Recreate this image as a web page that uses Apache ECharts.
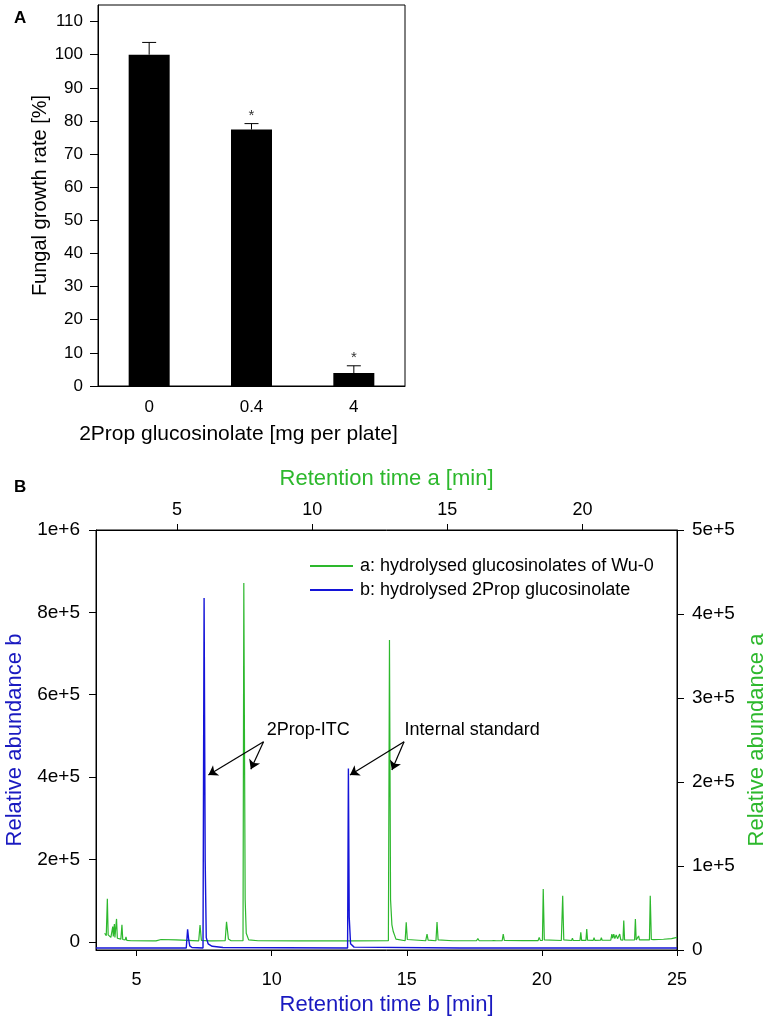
<!DOCTYPE html>
<html>
<head>
<meta charset="utf-8">
<script src="https://cdn.jsdelivr.net/npm/echarts@6/dist/echarts.min.js"></script>
<style>
html,body{margin:0;padding:0;background:#fff;}
#chart{width:768px;height:1020px;}
</style>
</head>
<body>
<div id="chart"></div>
<script>
// ---------- Panel A data ----------
const doseCats = ['0', '0.4', '4'];
const growthMean = [100, 77.4, 3.9];
const growthErr = [3.7, 1.8, 2.2];
const growthSig = ['', '*', '*'];
const growthTicks = [0, 10, 20, 30, 40, 50, 60, 70, 80, 90, 100, 110];

// ---------- Panel B data ----------
// a: hydrolysed glucosinolates of Wu-0 (time a [min], abundance a)
const timeA = [2.32, 2.38, 2.42, 2.45, 2.55, 2.62, 2.64, 2.68, 2.70, 2.76, 2.79, 2.92, 2.96, 2.99, 3.08, 3.11, 3.14, 3.30,
  4.10, 4.16, 4.22, 4.41, 4.45, 4.96, 5.00, 5.80, 5.85, 5.90, 6.22, 6.26, 6.30, 6.78, 6.83, 6.90, 7.00,
  7.44, 7.47, 7.52, 7.56, 7.65, 8.00, 9.50, 10.50, 11.50, 12.82, 12.86, 12.90, 12.95, 13.00, 13.10,
  13.44, 13.48, 13.52, 14.20, 14.25, 14.29, 14.58, 14.62, 14.66, 15.20, 16.08, 16.13, 16.18, 16.64, 16.68, 16.72, 16.77, 16.81,
  17.03, 17.07, 17.11, 17.80, 18.36, 18.40, 18.44, 18.52, 18.55, 18.59, 19.22, 19.27, 19.31, 19.60, 19.63, 19.66,
  19.91, 19.94, 19.97, 20.13, 20.16, 20.19, 20.40, 20.43, 20.46, 20.67, 20.70, 20.73, 21.05, 21.09, 21.12, 21.16, 21.20,
  21.25, 21.30, 21.38, 21.42, 21.50, 21.53, 21.56, 21.93, 21.96, 21.99, 22.05, 22.08, 22.11, 22.48, 22.51, 22.55,
  22.64, 22.67, 22.70, 23.00, 23.30, 23.50];
const absA = [20000, 17000, 61000, 18000, 15000, 28000, 16000, 31000, 15000, 37000, 14000, 13000, 30000, 12500, 12000, 15500, 11500, 11000,
  10800, 11800, 10800, 12500, 10800, 12000, 10700, 10800, 29800, 11500, 10900, 12500, 10900, 11000, 33700, 13000, 11000,
  11000, 437000, 60000, 20000, 12000, 11000, 10800, 10900, 10800, 11000, 369000, 60000, 30000, 22000, 13000,
  11000, 33000, 12500, 11000, 19000, 11800, 11000, 33300, 12000, 11000, 11000, 13500, 11000, 11000, 12500, 11200, 12500, 11000,
  11000, 19000, 11300, 11200, 11200, 15000, 11500, 11300, 72600, 12000, 11300, 64700, 12000, 11300, 14000, 11300,
  11500, 21000, 11500, 11500, 25000, 11800, 11500, 14600, 11500, 11600, 14600, 11600, 11800, 19000, 14000, 19000, 13500,
  18000, 13500, 19000, 12000, 11800, 35000, 12000, 11900, 37000, 12000, 12000, 16700, 12000, 12000, 64700, 12500,
  12300, 14600, 12300, 12800, 13500, 15000];

// b: hydrolysed 2Prop glucosinolate (time b [min], abundance b)
const timeB = [3.50, 6.84, 6.89, 6.93, 6.97, 7.05, 7.46, 7.50, 7.54, 7.58, 7.65, 7.80, 8.20,
  12.81, 12.84, 12.87, 12.92, 13.05, 16.97, 17.00, 17.04, 25.00];
const absB = [-15000, -15000, 30000, 5000, -10000, -14000, -15000, 835000, 200000, 10000, -5000, -11000, -14000,
  -15000, 421000, 60000, -5000, -13000, -15000, -11000, -15000, -15000];

const ticksTimeA = [5, 10, 15, 20];
const ticksTimeB = [5, 10, 15, 20, 25];
const ticksAbsB = [0, 200000, 400000, 600000, 800000, 1000000];

// annotation labels and arrows (time b, abundance b)
const annoLabels = [
  {name: '2Prop-ITC', at: [9.82, 514000]},
  {name: 'Internal standard', at: [14.92, 513000]}
];
const annoArrows = [
  [[9.70, 486000], [7.66, 405000]],
  [[9.70, 486000], [9.23, 419000]],
  [[14.90, 486000], [12.90, 405000]],
  [[14.90, 486000], [14.45, 417000]]
];

const nameA = 'a: hydrolysed glucosinolates of Wu-0';
const nameB = 'b: hydrolysed 2Prop glucosinolate';
const GREEN = '#2DB82D';
const BLUE = '#1414D8';
const BLUE_T = '#1A1AC0';
const FONT = '"Liberation Sans", Arial, sans-serif';

function expFmt(v) {
  if (v === 0) return '0';
  return Number(v).toExponential();
}

const chart = echarts.init(document.getElementById('chart'), null, {renderer: 'canvas'});

const option = {
  animation: false,
  backgroundColor: '#fff',
  textStyle: {fontFamily: FONT, color: '#000'},
  title: [
    {text: 'A', left: 9, top: 5, textStyle: {fontSize: 17, fontWeight: 'bold', fontFamily: FONT, color: '#000'}},
    {text: 'B', left: 9, top: 474, textStyle: {fontSize: 17, fontWeight: 'bold', fontFamily: FONT, color: '#000'}}
  ],
  legend: {
    show: true,
    orient: 'vertical',
    left: 305,
    top: 552,
    itemWidth: 43,
    itemHeight: 2,
    itemGap: 6,
    icon: 'rect',
    textStyle: {fontSize: 18, fontFamily: FONT, color: '#000', padding: [0, 0, 0, 2]},
    data: [
      {name: nameA, icon: 'rect', itemStyle: {color: GREEN}},
      {name: nameB, icon: 'rect', itemStyle: {color: BLUE}}
    ],
    selectedMode: false
  },
  grid: [
    {left: 98, top: 5, width: 307, height: 381, show: true, borderColor: '#000', borderWidth: 1,
      backgroundColor: 'transparent', containLabel: false, outerBoundsMode: 'none'},
    {left: 96, top: 530, width: 581, height: 420, show: true, borderColor: '#000', borderWidth: 1,
      backgroundColor: 'transparent', containLabel: false, outerBoundsMode: 'none'}
  ],
  xAxis: [
    {
      gridIndex: 0, type: 'category', data: doseCats,
      axisLine: {lineStyle: {color: '#000', width: 1}},
      axisTick: {alignWithLabel: true, length: 7, lineStyle: {color: '#000'}},
      axisLabel: {fontSize: 17, color: '#000', margin: 13, fontFamily: FONT},
      name: '2Prop glucosinolate [mg per plate]', nameLocation: 'middle', nameGap: 38,
      nameTextStyle: {fontSize: 21, color: '#000', fontFamily: FONT, padding: [0, 26, 0, 0]}
    },
    {
      gridIndex: 1, type: 'value', position: 'bottom', min: 3.5, max: 25,
      axisLine: {onZero: false, lineStyle: {color: '#000', width: 1}},
      axisTick: {length: 6, customValues: ticksTimeB, lineStyle: {color: '#000'}},
      axisLabel: {fontSize: 18, color: '#000', margin: 21, customValues: ticksTimeB, fontFamily: FONT},
      splitLine: {show: false},
      name: 'Retention time b [min]', nameLocation: 'middle', nameGap: 44,
      nameTextStyle: {fontSize: 22, color: BLUE_T, fontFamily: FONT}
    },
    {
      gridIndex: 1, type: 'value', position: 'top', min: 2, max: 23.5,
      axisLine: {onZero: false, lineStyle: {color: '#000', width: 1}},
      axisTick: {length: 6, customValues: ticksTimeA, lineStyle: {color: '#000'}},
      axisLabel: {fontSize: 18, color: '#000', margin: 11, customValues: ticksTimeA, fontFamily: FONT},
      splitLine: {show: false},
      name: 'Retention time a [min]', nameLocation: 'middle', nameGap: 40,
      nameTextStyle: {fontSize: 22, color: GREEN, fontFamily: FONT}
    }
  ],
  yAxis: [
    {
      gridIndex: 0, type: 'value', min: 0, max: 115,
      axisLine: {show: true, lineStyle: {color: '#000', width: 1}},
      axisTick: {show: true, length: 8, customValues: growthTicks, lineStyle: {color: '#000'}},
      axisLabel: {fontSize: 17, color: '#000', margin: 15, customValues: growthTicks, fontFamily: FONT},
      splitLine: {show: false},
      name: 'Fungal growth rate [%]', nameLocation: 'middle', nameRotate: 90, nameGap: 46,
      nameTextStyle: {fontSize: 20, color: '#000', fontFamily: FONT}
    },
    {
      gridIndex: 1, type: 'value', position: 'left', min: -20000, max: 1000000,
      axisLine: {show: true, onZero: false, lineStyle: {color: '#000', width: 1}},
      axisTick: {show: true, length: 7, customValues: ticksAbsB, lineStyle: {color: '#000'}},
      axisLabel: {fontSize: 19, color: '#000', margin: 16, customValues: ticksAbsB, formatter: expFmt, fontFamily: FONT},
      splitLine: {show: false},
      name: 'Relative abundance b', nameLocation: 'middle', nameRotate: 90, nameGap: 70,
      nameTextStyle: {fontSize: 22, color: BLUE_T, fontFamily: FONT}
    },
    {
      gridIndex: 1, type: 'value', position: 'right', min: 0, max: 500000, interval: 100000,
      axisLine: {show: true, onZero: false, lineStyle: {color: '#000', width: 1}},
      axisTick: {show: true, length: 7, lineStyle: {color: '#000'}},
      axisLabel: {fontSize: 19, color: '#000', margin: 15, formatter: expFmt, fontFamily: FONT},
      splitLine: {show: false},
      name: 'Relative abundance a', nameLocation: 'middle', nameRotate: 90, nameGap: 67,
      nameTextStyle: {fontSize: 22, color: GREEN, fontFamily: FONT}
    }
  ],
  series: [
    {
      type: 'bar', xAxisIndex: 0, yAxisIndex: 0, data: growthMean, barWidth: 41,
      itemStyle: {color: '#000'}, silent: true
    },
    {
      type: 'custom', xAxisIndex: 0, yAxisIndex: 0, silent: true,
      data: doseCats.map((c, i) => [i, growthMean[i], growthErr[i], growthSig[i]]),
      renderItem: function (params, api) {
        const idx = api.value(0);
        const base = api.coord([idx, api.value(1)]);
        const top = api.coord([idx, api.value(1) + api.value(2)]);
        const sig = growthSig[params.dataIndex];
        const children = [
          {type: 'line', shape: {x1: base[0], y1: base[1], x2: top[0], y2: top[1]}, style: {stroke: '#000', lineWidth: 1}},
          {type: 'line', shape: {x1: top[0] - 7, y1: top[1], x2: top[0] + 7, y2: top[1]}, style: {stroke: '#000', lineWidth: 1}}
        ];
        if (sig) {
          children.push({type: 'text', style: {text: sig, x: top[0], y: top[1] - 8, align: 'center', verticalAlign: 'middle', fontSize: 15, fontFamily: FONT, fill: '#333'}});
        }
        return {type: 'group', children: children};
      }
    },
    {
      name: nameA, type: 'line', xAxisIndex: 2, yAxisIndex: 2,
      data: timeA.map((t, i) => [t, absA[i]]),
      showSymbol: false, symbol: 'none', sampling: false, silent: true,
      lineStyle: {color: GREEN, width: 1.2}, itemStyle: {color: GREEN}
    },
    {
      name: nameB, type: 'line', xAxisIndex: 1, yAxisIndex: 1,
      data: timeB.map((t, i) => [t, absB[i]]),
      showSymbol: false, symbol: 'none', sampling: false, silent: true,
      lineStyle: {color: BLUE, width: 1.4}, itemStyle: {color: BLUE},
      markLine: {
        silent: true, animation: false,
        symbol: ['none', 'arrow'], symbolSize: 9,
        lineStyle: {color: '#000', width: 1.2, type: 'solid'},
        label: {show: false},
        emphasis: {disabled: true},
        data: annoArrows.map(a => [{coord: a[0]}, {coord: a[1]}])
      },
      markPoint: {
        silent: true, animation: false,
        symbol: 'circle', symbolSize: 0.01,
        itemStyle: {color: 'rgba(0,0,0,0)'},
        label: {show: true, position: 'right', distance: 0, formatter: '{b}', fontSize: 18, color: '#000', fontFamily: FONT},
        data: annoLabels.map(l => ({name: l.name, coord: l.at}))
      }
    }
  ]
};
chart.setOption(option);
</script>
</body>
</html>
